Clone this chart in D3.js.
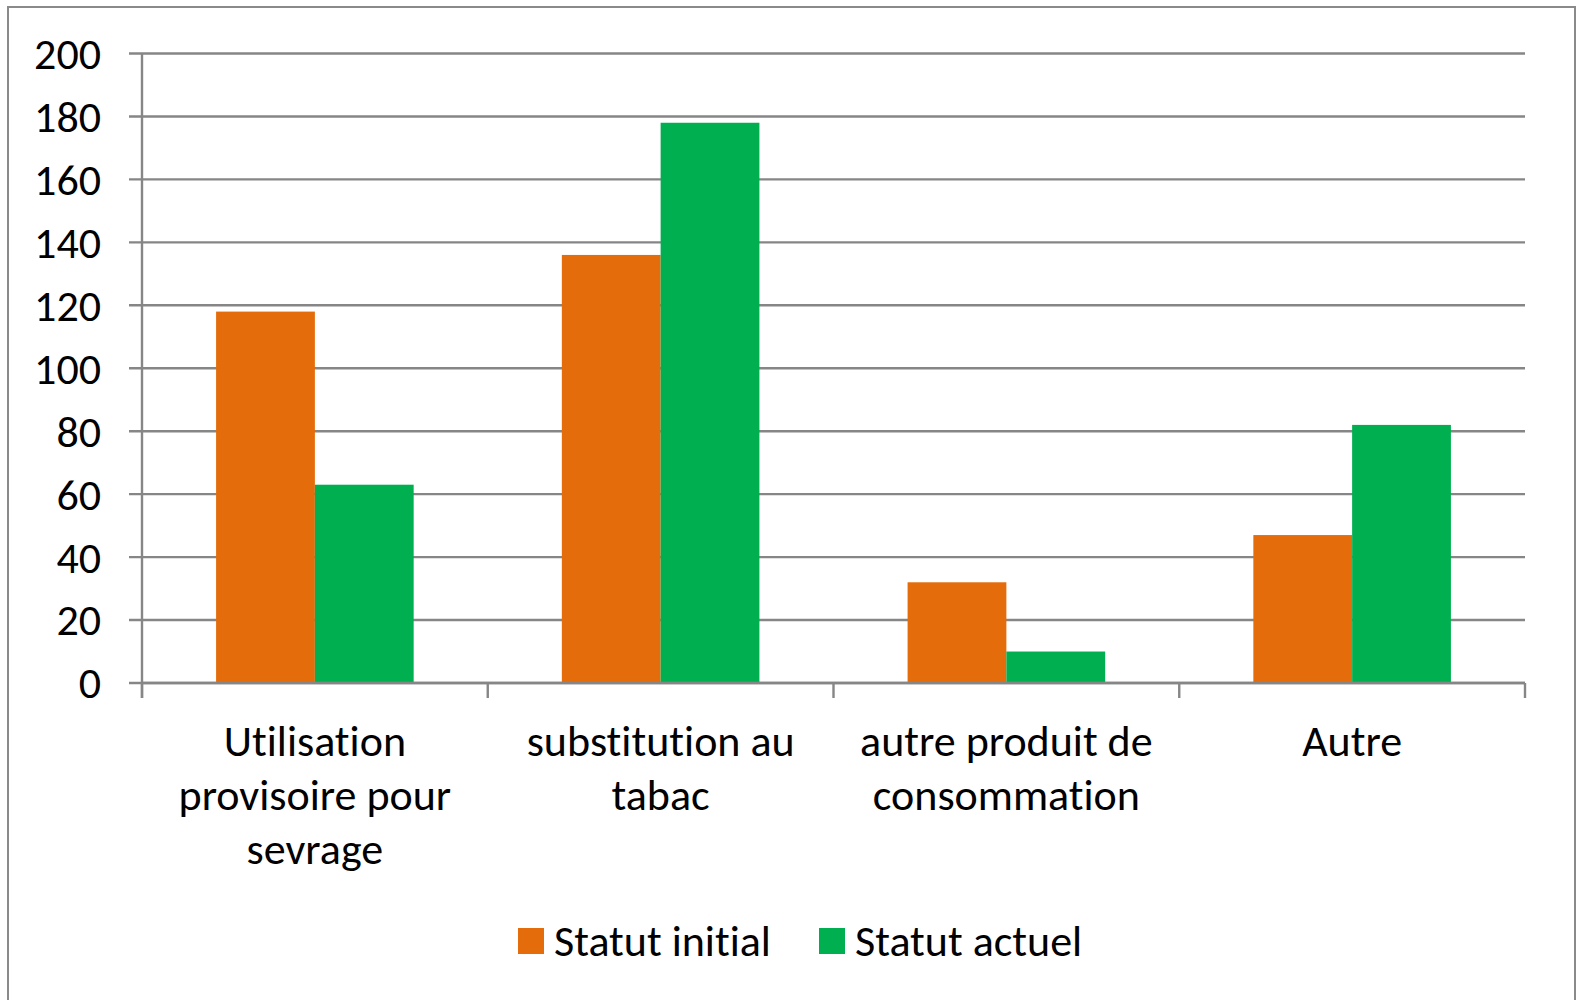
<!DOCTYPE html>
<html>
<head>
<meta charset="utf-8">
<script src="https://cdn.jsdelivr.net/npm/d3@7/dist/d3.min.js"></script>
<style>
body { margin: 0; background: #fff; }
text { font-family: Carlito, Calibri, Lato, sans-serif; fill: #000; font-variant-ligatures: none; }
</style>
</head>
<body>
<script>
var w = 1581;
var h = 1000;

// data
var categories = [
	["Utilisation", "provisoire pour", "sevrage"],
	["substitution au", "tabac"],
	["autre produit de", "consommation"],
	["Autre"]
];
var seriesNames = ["Statut initial", "Statut actuel"];
var seriesColors = ["#E46C0A", "#00B050"];
var initial = [118, 136, 32, 47];
var actuel = [63, 178, 10, 82];
var yTicks = [0, 20, 40, 60, 80, 100, 120, 140, 160, 180, 200];

var svg = d3.select("body")
	.append("svg")
	.attr("width", w)
	.attr("height", h);

// outer border (bottom runs off the picture)
svg.append("rect")
	.attr("x", 8)
	.attr("y", 7)
	.attr("width", 1567)
	.attr("height", 1010)
	.attr("fill", "none")
	.attr("stroke", "#8a8a8a")
	.attr("stroke-width", 2);

var pLeft = 142, pRight = 1525, pTop = 53.5, pBottom = 683;
var fs = 44;

var y = d3.scaleLinear().domain([0, 200]).range([pBottom, pTop]);
var x0 = d3.scaleBand().domain(d3.range(categories.length)).range([pLeft, pRight]);
// excel gap width 150%
var x1 = d3.scaleBand().domain([0, 1]).range([0, x0.bandwidth()]).paddingOuter(0.75).paddingInner(0);

// gridlines
svg.selectAll("line.grid")
	.data(yTicks)
	.enter()
	.append("line")
	.attr("class", "grid")
	.attr("x1", pLeft - 13)
	.attr("x2", pRight)
	.attr("y1", function(d){ return y(d); })
	.attr("y2", function(d){ return y(d); })
	.attr("stroke", "#868686")
	.attr("stroke-width", 2.4);

// y axis labels
svg.selectAll("text.ytick")
	.data(yTicks)
	.enter()
	.append("text")
	.attr("class", "ytick")
	.attr("x", 101)
	.attr("y", function(d){ return y(d); })
	.attr("dy", "0.35em")
	.attr("text-anchor", "end")
	.attr("font-size", fs)
	.text(function(d){ return d; });

// bars
var rows = categories.map(function(c, i){
	return [initial[i], actuel[i]];
});
var groups = svg.selectAll("g.cat")
	.data(rows)
	.enter()
	.append("g")
	.attr("class", "cat")
	.attr("transform", function(d, i){ return "translate(" + x0(i) + ",0)"; });
groups.selectAll("rect")
	.data(function(d){ return d; })
	.enter()
	.append("rect")
	.attr("x", function(d, j){ return x1(j); })
	.attr("y", function(d){ return y(d); })
	.attr("width", x1.bandwidth())
	.attr("height", function(d){ return y(0) - y(d); })
	.attr("fill", function(d, j){ return seriesColors[j]; });

// axis lines
svg.append("line")
	.attr("x1", pLeft).attr("x2", pLeft)
	.attr("y1", pTop).attr("y2", pBottom + 15)
	.attr("stroke", "#868686").attr("stroke-width", 2.4);
svg.append("line")
	.attr("x1", pLeft).attr("x2", pRight)
	.attr("y1", pBottom).attr("y2", pBottom)
	.attr("stroke", "#868686").attr("stroke-width", 2.4);
svg.selectAll("line.xtick")
	.data(d3.range(categories.length + 1))
	.enter()
	.append("line")
	.attr("class", "xtick")
	.attr("x1", function(d){ return d < categories.length ? x0(d) : pRight; })
	.attr("x2", function(d){ return d < categories.length ? x0(d) : pRight; })
	.attr("y1", pBottom)
	.attr("y2", pBottom + 15)
	.attr("stroke", "#868686").attr("stroke-width", 2.4);

// category labels
var labels = svg.selectAll("text.cat")
	.data(categories)
	.enter()
	.append("text")
	.attr("class", "cat")
	.attr("text-anchor", "middle")
	.attr("font-size", fs);
labels.selectAll("tspan")
	.data(function(d, i){ return d.map(function(s){ return {s: s, i: i}; }); })
	.enter()
	.append("tspan")
	.attr("x", function(d){ return x0(d.i) + x0.bandwidth() / 2; })
	.attr("y", function(d, k){ return 756 + k * 54; })
	.text(function(d){ return d.s; });

// legend
var legX = [518, 819];
var leg = svg.selectAll("g.leg")
	.data(seriesNames)
	.enter()
	.append("g")
	.attr("class", "leg")
	.attr("transform", function(d, i){ return "translate(" + legX[i] + ",928)"; });
leg.append("rect")
	.attr("width", 26)
	.attr("height", 26)
	.attr("fill", function(d, i){ return seriesColors[i]; });
leg.append("text")
	.attr("x", 36)
	.attr("y", 13)
	.attr("dy", "0.35em")
	.attr("font-size", fs)
	.text(function(d){ return d; });
</script>
</body>
</html>
